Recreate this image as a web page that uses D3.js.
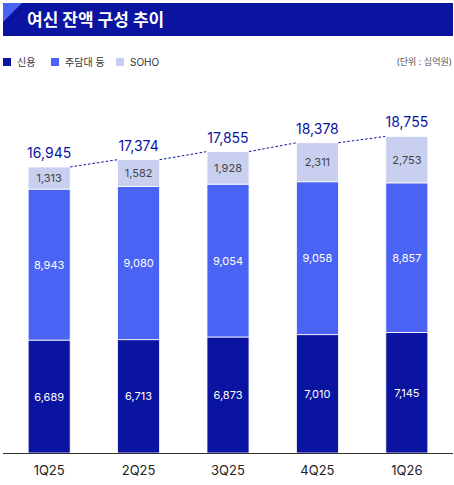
<!DOCTYPE html><html><head><meta charset="utf-8"><script src="https://cdn.jsdelivr.net/npm/d3@7"></script>
<style>body{margin:0;background:#fff}text{font-family:Inter,"Noto Sans CJK KR",sans-serif}</style></head><body><svg id="c" width="454" height="485"></svg>
<script>
const categories=["1Q25","2Q25","3Q25","4Q25","1Q26"];
const credit=[6689,6713,6873,7010,7145];
const mortgage=[8943,9080,9054,9058,8857];
const soho=[1313,1582,1928,2311,2753];
const totals=[16945,17374,17855,18378,18755];
const seriesNames=["신용","주담대 등","SOHO"];
const colors=["#0a14a0","#4a63f5","#c9d0ef"];
const svg=d3.select("#c");
svg.append("rect").attr("x",3).attr("y",3).attr("width",450).attr("height",33).attr("fill","#0a14a0");
svg.append("path").attr("d","M3,3 L22,3 L3,22 Z").attr("fill","#4a63f5");
svg.append("text").attr("x",27).attr("y",26).attr("fill","#fff").attr("font-size",17).attr("font-weight",700).text("여신 잔액 구성 추이");
const lx=[3,51,116];
seriesNames.forEach((n,i)=>{svg.append("rect").attr("x",lx[i]).attr("y",58).attr("width",8).attr("height",8).attr("fill",colors[i]);
svg.append("text").attr("x",lx[i]+14).attr("y",66).attr("font-size",10).attr("fill","#333").text(n);});
svg.append("text").attr("x",452).attr("y",65).attr("text-anchor","end").attr("font-size",9).attr("fill","#555").text("(단위 : 십억원)");
const x=d3.scaleBand().domain(categories).range([4,452]).paddingInner(0.53).paddingOuter(0.27);
const y=d3.scaleLinear().domain([0,23280]).range([453,60]);
const data=categories.map((c,i)=>({c,v:[credit[i],mortgage[i],soho[i]]}));
data.forEach((d,i)=>{let acc=0;d.v.forEach((v,j)=>{const y0=y(acc),y1=y(acc+v);
svg.append("rect").attr("x",x(d.c)).attr("y",y1).attr("width",x.bandwidth()).attr("height",y0-y1).attr("fill",colors[j]).attr("stroke","#fff").attr("stroke-width",0.8);
svg.append("text").attr("x",x(d.c)+x.bandwidth()/2).attr("y",(y0+y1)/2+4).attr("text-anchor","middle").attr("font-size",11).attr("fill",j==2?"#444":"#fff").text(d3.format(",")(v));
acc+=v;});
svg.append("text").attr("x",x(d.c)+x.bandwidth()/2).attr("y",y(totals[i])-9).attr("text-anchor","middle").attr("font-size",14).attr("fill","#0a14a0").text(d3.format(",")(totals[i]));
if(i<categories.length-1){svg.append("line").attr("x1",x(d.c)+x.bandwidth()).attr("y1",y(totals[i])).attr("x2",x(categories[i+1])).attr("y2",y(totals[i+1])).attr("stroke","#0a14a0").attr("stroke-width",1).attr("stroke-dasharray","2.5,2");}
});
svg.append("line").attr("x1",3).attr("x2",453).attr("y1",453.5).attr("y2",453.5).attr("stroke","#333");
categories.forEach(c=>svg.append("text").attr("x",x(c)+x.bandwidth()/2).attr("y",475).attr("text-anchor","middle").attr("font-size",13).attr("fill","#222").text(c));
</script></body></html>
